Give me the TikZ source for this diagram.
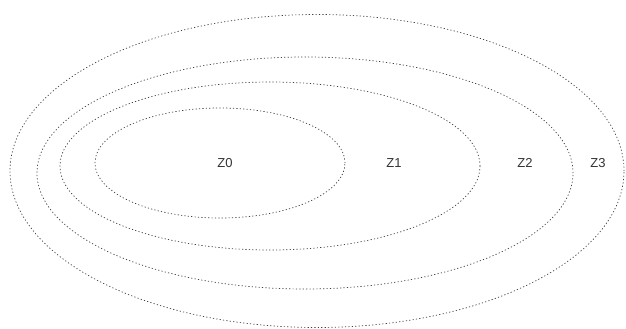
\documentclass[tikz,border=0pt]{standalone}
\usepackage{fontspec}
\setmainfont{Liberation Sans}
\usetikzlibrary{shapes.geometric}
\begin{document}
\begin{tikzpicture}[x=1pt,y=-1pt,
  zone/.style={ellipse,draw=black!75,line width=0.7pt,dash pattern=on 1.2pt off 2.2pt,inner sep=0pt},
  zlabel/.style={font=\fontsize{13}{15}\selectfont,text=black!80,inner sep=0pt}]
\useasboundingbox (0,0) rectangle (626,329);
\node[zone,minimum width=250,minimum height=110] (e0) at (220,163) {};
\node[zone,minimum width=420,minimum height=168] (e1) at (270,166) {};
\node[zone,minimum width=536,minimum height=232] (e2) at (305,173) {};
\node[zone,minimum width=614,minimum height=313] (e3) at (317,171) {};
\node[zlabel] (z0) at (225,163) {Z0};
\node[zlabel] (z1) at (394,163) {Z1};
\node[zlabel] (z2) at (525,163) {Z2};
\node[zlabel] (z3) at (598,163) {Z3};
\end{tikzpicture}
\end{document}
